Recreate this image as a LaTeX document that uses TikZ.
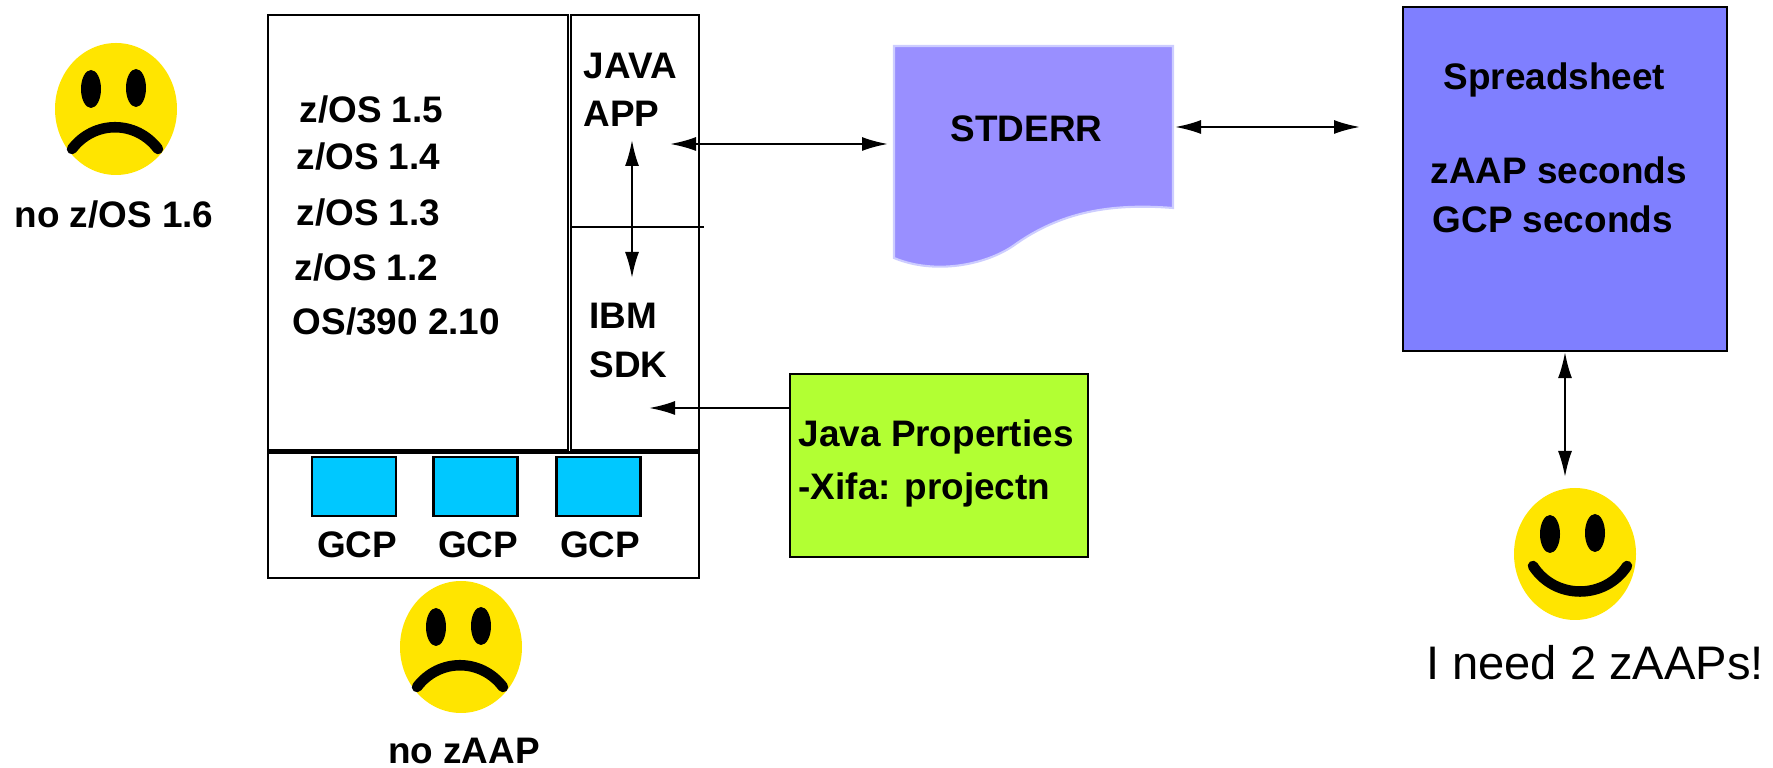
\documentclass[tikz,border=0pt]{standalone}
\usepackage{fontspec}
\setmainfont{Liberation Sans}
\usetikzlibrary{arrows.meta,shapes.geometric}
\definecolor{faceyellow}{RGB}{255,229,0}
\definecolor{gcpcyan}{RGB}{0,200,255}
\definecolor{propgreen}{RGB}{178,255,51}
\definecolor{stderrfill}{RGB}{153,143,255}
\definecolor{stderrline}{RGB}{205,205,255}
\definecolor{sheetfill}{RGB}{127,127,255}
\newcommand{\facefeatures}[1]{%
  \fill ([shift={(-25,-20)}]#1.center) ellipse [x radius=1mm, y radius=1.9mm];
  \fill ([shift={(20,-21)}]#1.center) ellipse [x radius=1mm, y radius=1.9mm];}
\begin{document}
\begin{tikzpicture}[x=0.1mm,y=-0.1mm,
  lbl/.style={font=\fontsize{10.5}{12}\selectfont\bfseries, inner sep=0, anchor=base west},
  lblc/.style={font=\fontsize{10.5}{12}\selectfont\bfseries, inner sep=0, anchor=base},
  bigl/.style={font=\fontsize{13.4}{16}\selectfont, inner sep=0, anchor=base},
  boxline/.style={draw=black, line width=0.6pt},
  gcpbox/.style={draw=black, line width=0.6pt, fill=gcpcyan, minimum width=8.4mm, minimum height=5.9mm, inner sep=0},
  arr/.style={line width=0.6pt, -{Latex[length=2.6mm,width=1.4mm]}},
  dbl/.style={line width=0.6pt, {Latex[length=2.6mm,width=1.4mm]}-{Latex[length=2.6mm,width=1.4mm]}},
  face/.style={ellipse, fill=faceyellow, minimum width=12.2mm, minimum height=13.2mm, inner sep=0},
  mouth/.style={line width=3pt, line cap=round}]
\path[use as bounding box] (0,0) rectangle (1773,768);

% main box
\draw[boxline] (268,15) rectangle (568,450.5);
\draw[boxline] (571,15) rectangle (699,450.5);
\draw[boxline] (268,452.5) rectangle (699,578);
\draw[boxline] (571,227) -- (704,227);

\node[lbl] (os15) at (299,123) {z/OS 1.5};
\node[lbl] (os14) at (296,170) {z/OS 1.4};
\node[lbl] (os13) at (296,226) {z/OS 1.3};
\node[lbl] (os12) at (294,281) {z/OS 1.2};
\node[lbl] (os390) at (292,335) {OS/390 2.10};
\node[lbl] (java) at (583,79) {JAVA};
\node[lbl] (app) at (583,127) {APP};
\node[lbl] (ibm) at (589,329) {IBM};
\node[lbl] (sdk) at (589,378) {SDK};

% GCPs
\node[gcpbox] (g1) at (354,486.5) {};
\node[gcpbox] (g2) at (475.5,486.5) {};
\node[gcpbox] (g3) at (598.5,486.5) {};
\node[lblc] (gl1) at (357,558) {GCP};
\node[lblc] (gl2) at (478,558) {GCP};
\node[lblc] (gl3) at (600,558) {GCP};

% STDERR document
\path[fill=stderrfill, draw=stderrline, line width=0.6pt]
  (894,46) -- (1173,46) -- (1173,208)
  .. controls (1110,203) and (1060,212) .. (1013,246)
  .. controls (985,265) and (935,275) .. (894,258) -- cycle;
\node[lbl] (stderr) at (950,142) {STDERR};

% spreadsheet
\node[draw=black, line width=0.6pt, fill=sheetfill, minimum width=32.4mm, minimum height=34.4mm, inner sep=0] (sheet) at (1565,179) {};
\node[lbl] (sp1) at (1443,90) {Spreadsheet};
\node[lbl] (sp2) at (1430,184) {zAAP seconds};
\node[lbl] (sp3) at (1432,233) {GCP seconds};

% java properties
\node[draw=black, line width=0.6pt, fill=propgreen, minimum width=29.8mm, minimum height=18.3mm, inner sep=0] (props) at (939,465.5) {};
\node[lbl] (jp1) at (798,447) {Java Properties};
\node[lbl] (jp2) at (798,500) {-Xifa: projectn};

% arrows
\coordinate (jaL) at (670,144);
\coordinate (jaR) at (888,144);
\draw[dbl] (jaL) -- (jaR);
\coordinate (jsT) at (632,140);
\coordinate (jsB) at (632,278);
\draw[dbl] (jsT) -- (jsB);
\coordinate (ssL) at (1175,127);
\coordinate (ssR) at (1360,127);
\draw[dbl] (ssL) -- (ssR);
\coordinate (gpL) at (649,408);
\draw[arr] (props.west |- gpL) -- (gpL);
\coordinate (hpT) at (1565,477);
\draw[dbl] (sheet.south) -- (hpT);

% faces
\node[face] (sad1) at (116,109) {};
\facefeatures{sad1}
\draw[mouth] ([shift={(-44,40)}]sad1.center) .. controls ([shift={(-22,11)}]sad1.center) and ([shift={(20,11)}]sad1.center) .. ([shift={(42,40)}]sad1.center);
\node[lblc] (nozos) at (114,228) {no z/OS 1.6};

\node[face] (sad2) at (461,647) {};
\facefeatures{sad2}
\draw[mouth] ([shift={(-44,40)}]sad2.center) .. controls ([shift={(-22,11)}]sad2.center) and ([shift={(20,11)}]sad2.center) .. ([shift={(42,40)}]sad2.center);
\node[lblc] (nozaap) at (464,764) {no zAAP};

\node[face] (happy) at (1575,554) {};
\facefeatures{happy}
\draw[mouth] ([shift={(-42,12)}]happy.center) .. controls ([shift={(-20,46)}]happy.center) and ([shift={(30,46)}]happy.center) .. ([shift={(52,12)}]happy.center);
\node[bigl] (need) at (1595,680) {I need 2 zAAPs!};
\end{tikzpicture}
\end{document}
